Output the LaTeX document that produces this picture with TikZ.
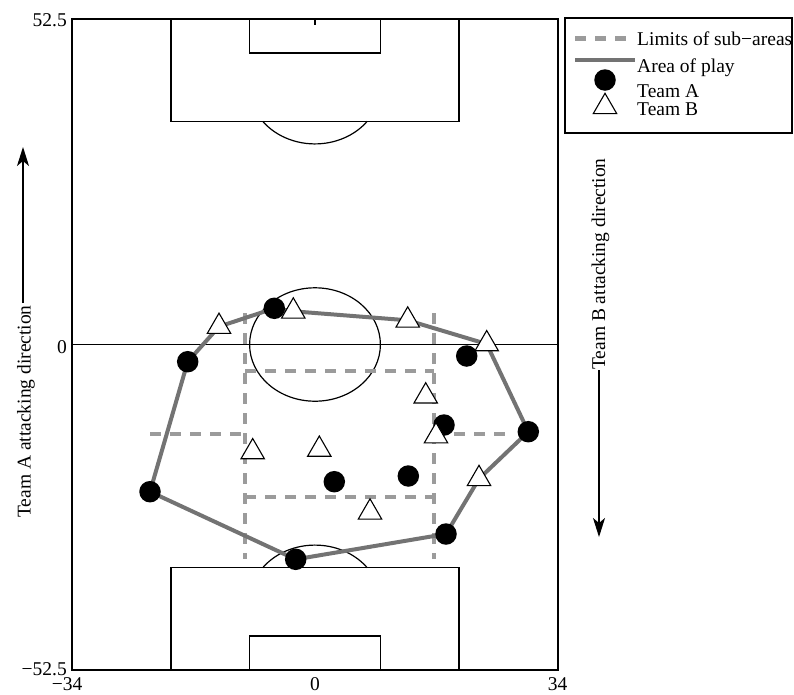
\documentclass[tikz,border=0pt]{standalone}
\usepackage{fontspec}
\setmainfont{Liberation Serif}
\usetikzlibrary{shapes.geometric,arrows.meta}
\definecolor{playgray}{RGB}{115,115,115}
\definecolor{subgray}{RGB}{155,155,155}
\begin{document}
\begin{tikzpicture}[x=1pt,y=-1pt,
  font=\fontsize{19.5}{23}\selectfont,
  pitchline/.style={draw=black,line width=1.2pt},
  subarea/.style={draw=subgray,line width=4.5pt,dash pattern=on 11pt off 9pt},
  areaplay/.style={draw=playgray,line width=4pt,line join=round},
  teamA/.style={circle,fill=black,minimum size=21.5pt,inner sep=0pt},
  teamB/.style={regular polygon,regular polygon sides=3,draw=black,fill=white,line width=1.1pt,minimum size=27pt,inner sep=0pt},
  lbl/.style={inner sep=0pt},
  dirarrow/.style={draw=black,line width=1.3pt,-{Stealth[length=19pt,width=12pt,inset=5pt]}}]
\useasboundingbox (0,0) rectangle (794,694);

% pitch
\draw[pitchline] (72,19) rectangle (558,670);
\draw[pitchline] (72,344.5) -- (558,344.5);
\draw[pitchline] (315,344.5) ellipse [x radius=65.4pt, y radius=56.7pt];
\draw[pitchline] (171,19) rectangle (459,121.3);
\draw[pitchline] (249.5,19) rectangle (380.5,53);
\draw[pitchline] (315,19) -- (315,25);
\draw[pitchline] (262.7,121.3) arc[start angle=216.95, end angle=323.05, x radius=65.4pt, y radius=56.7pt];
\draw[pitchline] (171,567.7) rectangle (459,670);
\draw[pitchline] (249.5,636) rectangle (380.5,670);
\draw[pitchline] (262.7,567.7) arc[start angle=143.05, end angle=36.95, x radius=65.4pt, y radius=56.7pt];

% tick labels
\node[lbl,anchor=base east] (ty1) at (67,26.5) {52.5};
\node[lbl,anchor=base east] (ty2) at (67,353.5) {0};
\node[lbl,anchor=base east] (ty3) at (67,675) {−52.5};
\node[lbl,anchor=base] (tx1) at (67,690) {−34};
\node[lbl,anchor=base] (tx2) at (315,690) {0};
\node[lbl,anchor=base] (tx3) at (557.5,690) {34};

% attacking directions
\node[lbl,rotate=90,anchor=base west] (dirA) at (30.5,518) {Team A attacking direction};
\coordinate (dirAs) at (23,303);
\coordinate (dirAe) at (23,147);
\draw[dirarrow] (dirAs) -- (dirAe);
\node[lbl,rotate=90,anchor=base west] (dirB) at (605,370) {Team B attacking direction};
\coordinate (dirBs) at (599,370);
\coordinate (dirBe) at (599,537);
\draw[dirarrow] (dirBs) -- (dirBe);

% sub-area limits
\coordinate (v1t) at (245,313); \coordinate (v1b) at (245,559);
\coordinate (v2t) at (434,313); \coordinate (v2b) at (434,559);
\coordinate (h1l) at (245,371); \coordinate (h1r) at (434,371);
\coordinate (h2l) at (245,497); \coordinate (h2r) at (434,497);
\coordinate (h3l) at (150,434); \coordinate (h3r) at (245,434);
\coordinate (h4l) at (434,434); \coordinate (h4r) at (510,434);
\draw[subarea] (v1t) -- (v1b);
\draw[subarea] (v2t) -- (v2b);
\draw[subarea] (h1l) -- (h1r);
\draw[subarea] (h2l) -- (h2r);
\draw[subarea] (h3l) -- (h3r);
\draw[subarea] (h4l) -- (h4r);

% player positions
\coordinate (pA1) at (274.3,308.3);
\coordinate (pA2) at (187.7,361.7);
\coordinate (pA3) at (466.7,356);
\coordinate (pA4) at (444,425);
\coordinate (pA5) at (528.3,431.7);
\coordinate (pA6) at (334.3,481.7);
\coordinate (pA7) at (408.3,476);
\coordinate (pA8) at (150,491.7);
\coordinate (pA9) at (446,534);
\coordinate (pA10) at (295.7,559.3);
\coordinate (pB1) at (219,326.6);
\coordinate (pB2) at (293.3,311.3);
\coordinate (pB3) at (407.7,320.3);
\coordinate (pB4) at (486.7,344);
\coordinate (pB5) at (425.7,396.2);
\coordinate (pB6) at (436,436.1);
\coordinate (pB7) at (252.7,452);
\coordinate (pB8) at (319.3,449.5);
\coordinate (pB9) at (479,478.8);
\coordinate (pB10) at (370,512.3);

% area of play
\draw[areaplay] (pA8) -- (pA2) -- (pB1) -- (pA1) -- (pB2) -- (pB3) -- (pB4) -- (pA5) -- (pB9) -- (pA9) -- (pA10) -- cycle;

% players
\foreach \i in {1,...,10} { \node[teamA] (A\i) at (pA\i) {}; }
\foreach \i in {1,...,10} { \node[teamB] (B\i) at (pB\i) {}; }

% legend
\draw[pitchline] (565,18) rectangle (792,133);
\coordinate (l1a) at (575,38.3); \coordinate (l1b) at (635,38.3);
\draw[subarea] (l1a) -- (l1b);
\node[lbl,anchor=base west] (lt1) at (637,45) {Limits of sub−areas};
\coordinate (l2a) at (575,60); \coordinate (l2b) at (635,60);
\draw[areaplay] (l2a) -- (l2b);
\node[lbl,anchor=base west] (lt2) at (637,72.5) {Area of play};
\node[teamA] (lA) at (605,80) {};
\node[lbl,anchor=base west] (lt3) at (637,97) {Team A};
\node[teamB] (lB) at (605,106.8) {};
\node[lbl,anchor=base west] (lt4) at (637,115) {Team B};
\end{tikzpicture}
\end{document}
